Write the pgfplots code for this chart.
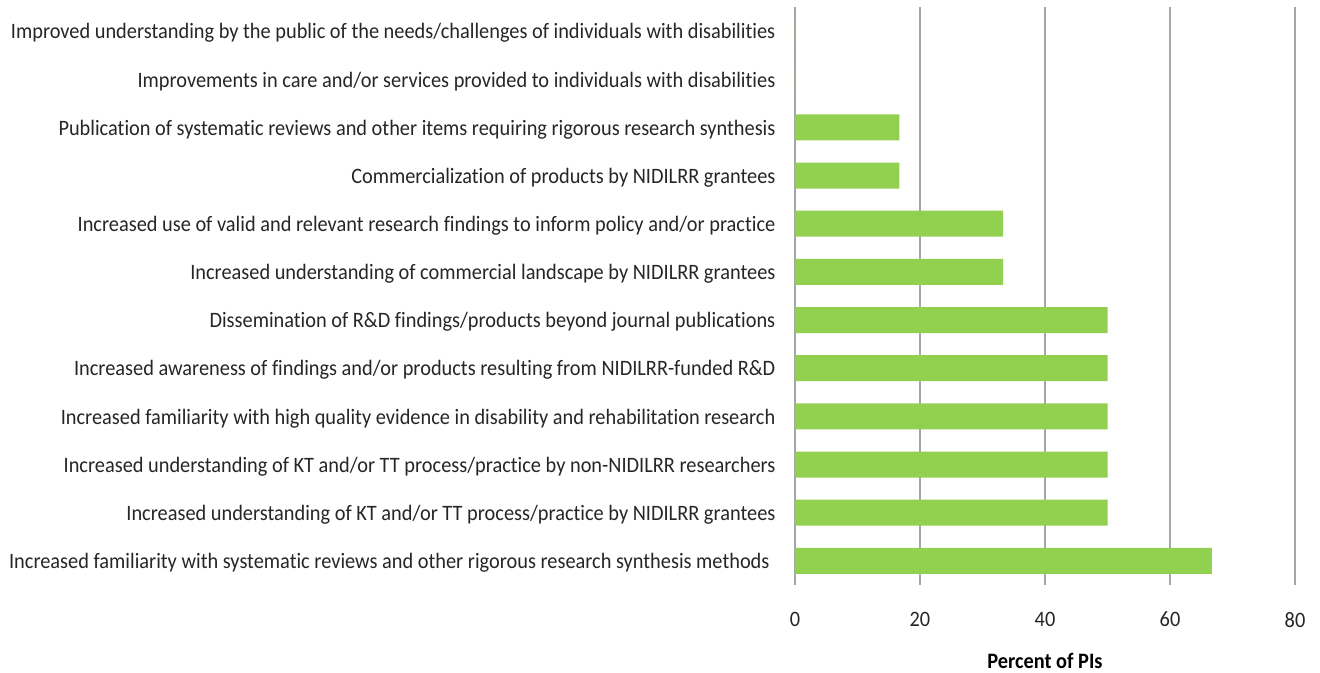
\documentclass[border=0pt]{standalone}
\usepackage{pgfplots}
\pgfplotsset{compat=1.18}
\usepackage{fontspec}
\setmainfont{Carlito}[FakeStretch=0.925, Ligatures=CommonOff]
\definecolor{bargreen}{HTML}{92D050}
\definecolor{gridgray}{HTML}{A6A6A6}
\begin{document}
\begin{tikzpicture}
\useasboundingbox (-397.5pt,-44pt) rectangle (262.5pt,292.5pt);
\begin{axis}[
    at={(0,0)}, anchor=south west,
    scale only axis,
    width=250pt, height=289pt,
    xbar, bar width=13pt,
    xmin=0, xmax=80,
    ymin=-0.5, ymax=11.5,
    xtick={0,20,40,60,80},
    ytick={0,...,11},
    yticklabels={
        {Increased familiarity with systematic reviews and other rigorous research synthesis methods\kern3pt\null},
        Increased understanding of KT and/or TT process/practice by NIDILRR grantees,
        Increased understanding of KT and/or TT process/practice by non-NIDILRR researchers,
        Increased familiarity with high quality evidence in disability and rehabilitation research,
        Increased awareness of findings and/or products resulting from NIDILRR-funded R\&D,
        Dissemination of R\&D findings/products beyond journal publications,
        Increased understanding of commercial landscape by NIDILRR grantees,
        Increased use of valid and relevant research findings to inform policy and/or practice,
        Commercialization of products by NIDILRR grantees,
        Publication of systematic reviews and other items requiring rigorous research synthesis,
        Improvements in care and/or services provided to individuals with disabilities,
        Improved understanding by the public of the needs/challenges of individuals with disabilities
    },
    axis line style={draw=none},
    xmajorgrids,
    grid style={gridgray, line width=0.6pt},
    tick style={draw=none},
    ticklabel style={font=\fontsize{11}{13}\selectfont, text=black!85},
    yticklabel style={xshift=-2pt, yshift=-1pt},
    xticklabel style={yshift=-10pt},
    /pgf/number format/assume math mode=true,
    xlabel={\textbf{Percent of PIs}},
    xlabel style={font=\fontsize{11}{13}\selectfont, yshift=-6pt},
    clip=false,
]
\addplot[fill=bargreen, draw=none] coordinates {
    (66.7,0) (50,1) (50,2) (50,3) (50,4) (50,5)
    (33.3,6) (33.3,7) (16.7,8) (16.7,9) (0,10) (0,11)
};
\end{axis}
\end{tikzpicture}
\end{document}
